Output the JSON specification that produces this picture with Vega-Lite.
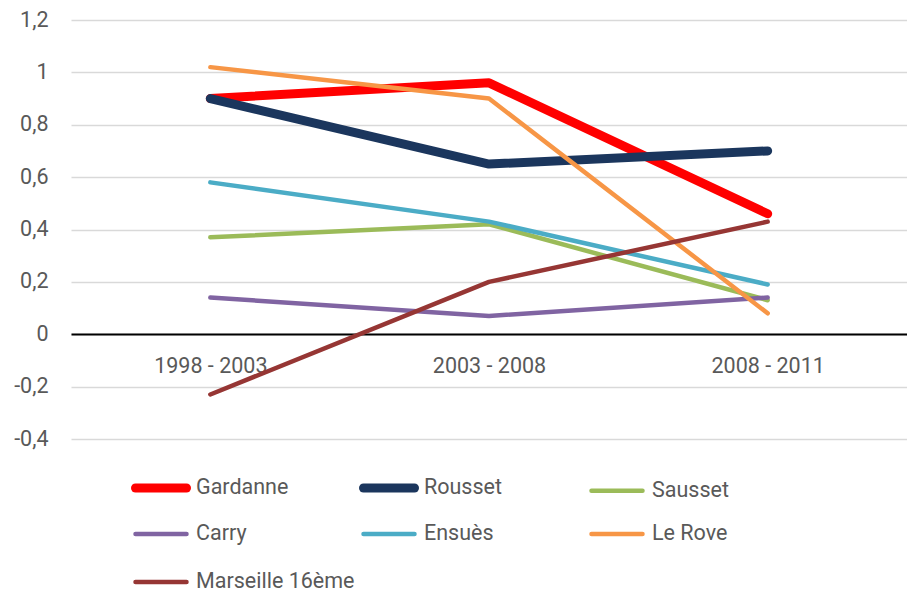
{
  "$schema": "https://vega.github.io/schema/vega-lite/v6.json",
  "autosize": "none",
  "padding": {"left": 71, "top": 20, "right": 0, "bottom": 151},
  "width": 836,
  "height": 419,
  "background": "white",
  "data": {
    "values": [
      {"city": "Gardanne", "period": "1998 - 2003", "value": 0.90},
      {"city": "Gardanne", "period": "2003 - 2008", "value": 0.96},
      {"city": "Gardanne", "period": "2008 - 2011", "value": 0.46},
      {"city": "Rousset", "period": "1998 - 2003", "value": 0.90},
      {"city": "Rousset", "period": "2003 - 2008", "value": 0.65},
      {"city": "Rousset", "period": "2008 - 2011", "value": 0.70},
      {"city": "Sausset", "period": "1998 - 2003", "value": 0.37},
      {"city": "Sausset", "period": "2003 - 2008", "value": 0.42},
      {"city": "Sausset", "period": "2008 - 2011", "value": 0.13},
      {"city": "Carry", "period": "1998 - 2003", "value": 0.14},
      {"city": "Carry", "period": "2003 - 2008", "value": 0.07},
      {"city": "Carry", "period": "2008 - 2011", "value": 0.14},
      {"city": "Ensuès", "period": "1998 - 2003", "value": 0.58},
      {"city": "Ensuès", "period": "2003 - 2008", "value": 0.43},
      {"city": "Ensuès", "period": "2008 - 2011", "value": 0.19},
      {"city": "Le Rove", "period": "1998 - 2003", "value": 1.02},
      {"city": "Le Rove", "period": "2003 - 2008", "value": 0.90},
      {"city": "Le Rove", "period": "2008 - 2011", "value": 0.08},
      {"city": "Marseille 16ème", "period": "1998 - 2003", "value": -0.23},
      {"city": "Marseille 16ème", "period": "2003 - 2008", "value": 0.20},
      {"city": "Marseille 16ème", "period": "2008 - 2011", "value": 0.43}
    ]
  },
  "mark": {"type": "line", "strokeCap": "round", "strokeJoin": "round"},
  "encoding": {
    "x": {
      "field": "period",
      "type": "ordinal",
      "scale": {"type": "point", "padding": 0.5},
      "axis": {
        "title": null,
        "offset": -105,
        "labelAngle": 0,
        "ticks": false,
        "domainColor": "#000000",
        "domainWidth": 2,
        "labelPadding": 21,
        "labelFontSize": 21.5,
        "labelColor": "#595959",
        "labelFont": "Roboto, sans-serif"
      }
    },
    "y": {
      "field": "value",
      "type": "quantitative",
      "scale": {"domain": [-0.4, 1.2], "nice": false, "zero": false},
      "axis": {
        "title": null,
        "values": [-0.4, -0.2, 0, 0.2, 0.4, 0.6, 0.8, 1, 1.2],
        "labelExpr": "replace(toString(datum.value), '.', ',')",
        "domain": false,
        "ticks": false,
        "gridColor": "#d9d9d9",
        "gridWidth": 1.5,
        "labelPadding": 23,
        "labelFontSize": 21.5,
        "labelColor": "#595959",
        "labelFont": "Roboto, sans-serif"
      }
    },
    "color": {
      "field": "city",
      "type": "nominal",
      "sort": ["Gardanne", "Rousset", "Sausset", "Carry", "Ensuès", "Le Rove", "Marseille 16ème"],
      "scale": {
        "domain": ["Gardanne", "Rousset", "Sausset", "Carry", "Ensuès", "Le Rove", "Marseille 16ème"],
        "range": ["#ff0000", "#1b365d", "#9bbb59", "#8064a2", "#4bacc6", "#f79646", "#963634"]
      },
      "legend": {
        "title": null,
        "orient": "none",
        "legendX": 60,
        "legendY": 438,
        "direction": "horizontal",
        "columns": 3,
        "gridAlign": "all",
        "columnPadding": -10,
        "rowPadding": -8,
        "symbolType": "stroke",
        "symbolSize": 2601,
        "labelOffset": 5,
        "labelFontSize": 21.5,
        "labelColor": "#595959",
        "labelFont": "Roboto, sans-serif",
        "labelLimit": 300,
        "encode": {"symbols": {"update": {"strokeCap": {"value": "round"}}}}
      }
    },
    "strokeWidth": {
      "field": "city",
      "type": "nominal",
      "sort": ["Gardanne", "Rousset", "Sausset", "Carry", "Ensuès", "Le Rove", "Marseille 16ème"],
      "scale": {
        "type": "ordinal",
        "domain": ["Gardanne", "Rousset", "Sausset", "Carry", "Ensuès", "Le Rove", "Marseille 16ème"],
        "range": [9, 9, 4.5, 4.5, 4.5, 4.5, 4.5]
      },
      "legend": {
        "title": null,
        "orient": "none",
        "legendX": 60,
        "legendY": 438,
        "direction": "horizontal",
        "columns": 3,
        "gridAlign": "all",
        "columnPadding": -10,
        "rowPadding": -8,
        "symbolType": "stroke",
        "symbolSize": 2601,
        "labelOffset": 5,
        "labelFontSize": 21.5,
        "labelColor": "#595959",
        "labelFont": "Roboto, sans-serif",
        "labelLimit": 300,
        "encode": {"symbols": {"update": {"strokeCap": {"value": "round"}}}}
      }
    }
  },
  "config": {"view": {"stroke": null}}
}
